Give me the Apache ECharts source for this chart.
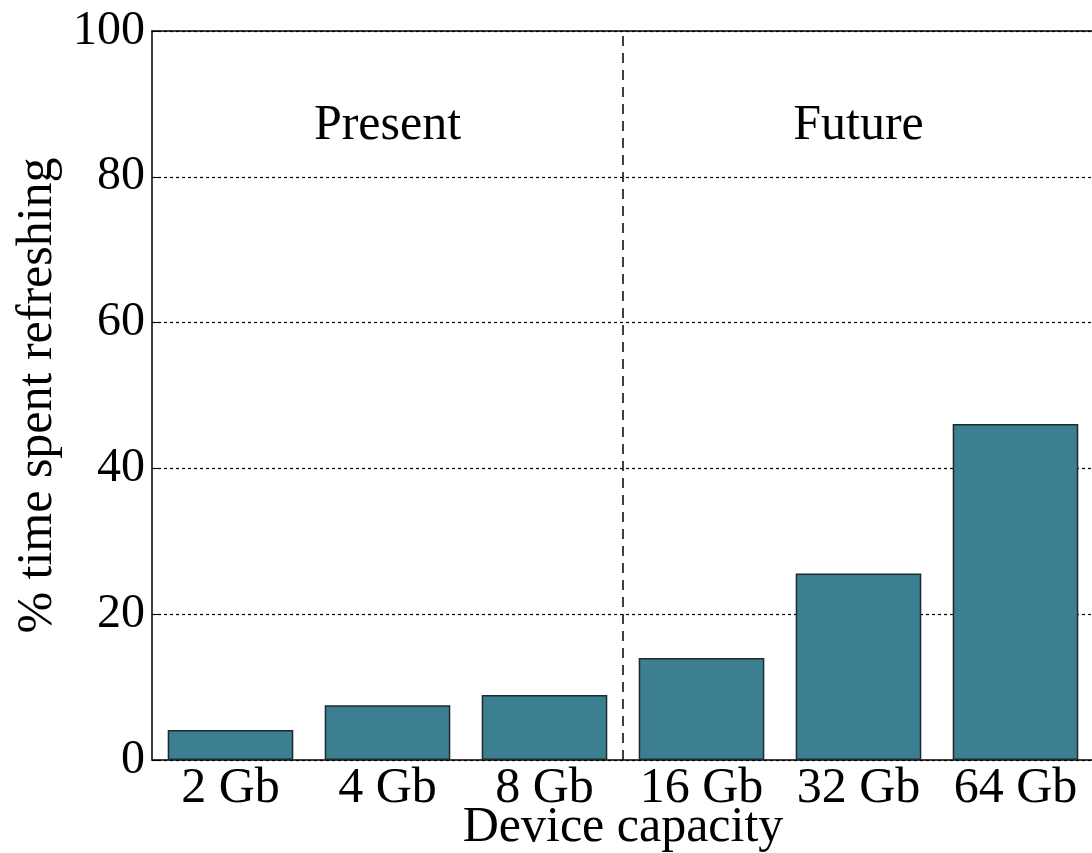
<!DOCTYPE html>
<html>
<head>
<meta charset="utf-8">
<script src="https://cdn.jsdelivr.net/npm/echarts@6/dist/echarts.min.js"></script>
<style>
  html, body { margin: 0; padding: 0; background: #fff; }
  #chart { width: 1092px; height: 853px; }
</style>
</head>
<body>
<div id="chart"></div>
<script>
const categories = ['2 Gb', '4 Gb', '8 Gb', '16 Gb', '32 Gb', '64 Gb'];
const refreshPct = [4.1, 7.5, 8.9, 14.0, 25.6, 46.1];
const yTicks = [0, 20, 40, 60, 80, 100];
const presentCount = 3; // first three capacities are "Present"
const dividerLine = [[presentCount, 0], [presentCount, 100]];
const groupLabels = [
  { name: 'Present', at: '4 Gb', y: 87 },
  { name: 'Future', at: '32 Gb', y: 87 }
];

const font = 'Liberation Serif';
const chart = echarts.init(document.getElementById('chart'));

const option = {
  animation: false,
  grid: { left: 152, top: 31, width: 942, bottom: 93, outerBoundsMode: 'none', containLabel: false },
  xAxis: [
    {
      type: 'category',
      data: categories,
      position: 'bottom',
      name: 'Device capacity',
      nameLocation: 'middle',
      nameGap: 43,
      nameMoveOverlap: false,
      nameTextStyle: { fontFamily: font, fontSize: 50, color: '#000' },
      axisLine: { lineStyle: { color: '#000', width: 1.5 } },
      axisTick: { alignWithLabel: true, inside: true, length: 8, lineStyle: { color: '#000' } },
      axisLabel: { interval: 0, hideOverlap: false, fontFamily: font, fontSize: 50, color: '#000', margin: 4 },
      splitLine: { show: false }
    },
    {
      type: 'category',
      data: categories,
      position: 'top',
      axisLine: { lineStyle: { color: '#000', width: 1.5 } },
      axisTick: { alignWithLabel: true, inside: true, length: 8, lineStyle: { color: '#000' } },
      axisLabel: { show: false },
      splitLine: { show: false }
    },
    {
      type: 'value',
      min: 0,
      max: categories.length,
      show: false
    }
  ],
  yAxis: {
    type: 'value',
    min: 0,
    max: 100,
    interval: 20,
    name: '% time spent refreshing',
    nameLocation: 'middle',
    nameGap: 89,
    nameMoveOverlap: false,
    nameTextStyle: { fontFamily: font, fontSize: 50, color: '#000' },
    axisLine: { show: true, lineStyle: { color: '#000', width: 1.5 } },
    axisTick: { show: true, inside: true, length: 8, lineStyle: { color: '#000' } },
    axisLabel: {
      fontFamily: font, fontSize: 48, color: '#000', margin: 7,
      formatter: (v) => (yTicks.includes(v) ? String(v) : '')
    },
    splitLine: {
      show: true,
      lineStyle: { color: '#000', type: [3, 3], width: 1.2 }
    }
  },
  series: [
    {
      type: 'bar',
      data: refreshPct,
      barWidth: '80%',
      itemStyle: { color: '#3c7f91', borderColor: '#1e2a2e', borderWidth: 1.5 },
      z: 3,
      markPoint: {
        symbol: 'circle',
        symbolSize: 1,
        silent: true,
        itemStyle: { color: 'rgba(0,0,0,0)' },
        label: {
          show: true,
          position: 'inside',
          fontFamily: font,
          fontSize: 50,
          color: '#000',
          formatter: (p) => p.name
        },
        data: groupLabels.map((g) => ({ name: g.name, coord: [g.at, g.y] }))
      }
    },
    {
      type: 'line',
      xAxisIndex: 2,
      data: dividerLine,
      symbol: 'none',
      silent: true,
      lineStyle: { color: '#000', type: [10, 7], width: 1.5 },
      z: 4
    }
  ]
};

chart.setOption(option);
</script>
</body>
</html>
